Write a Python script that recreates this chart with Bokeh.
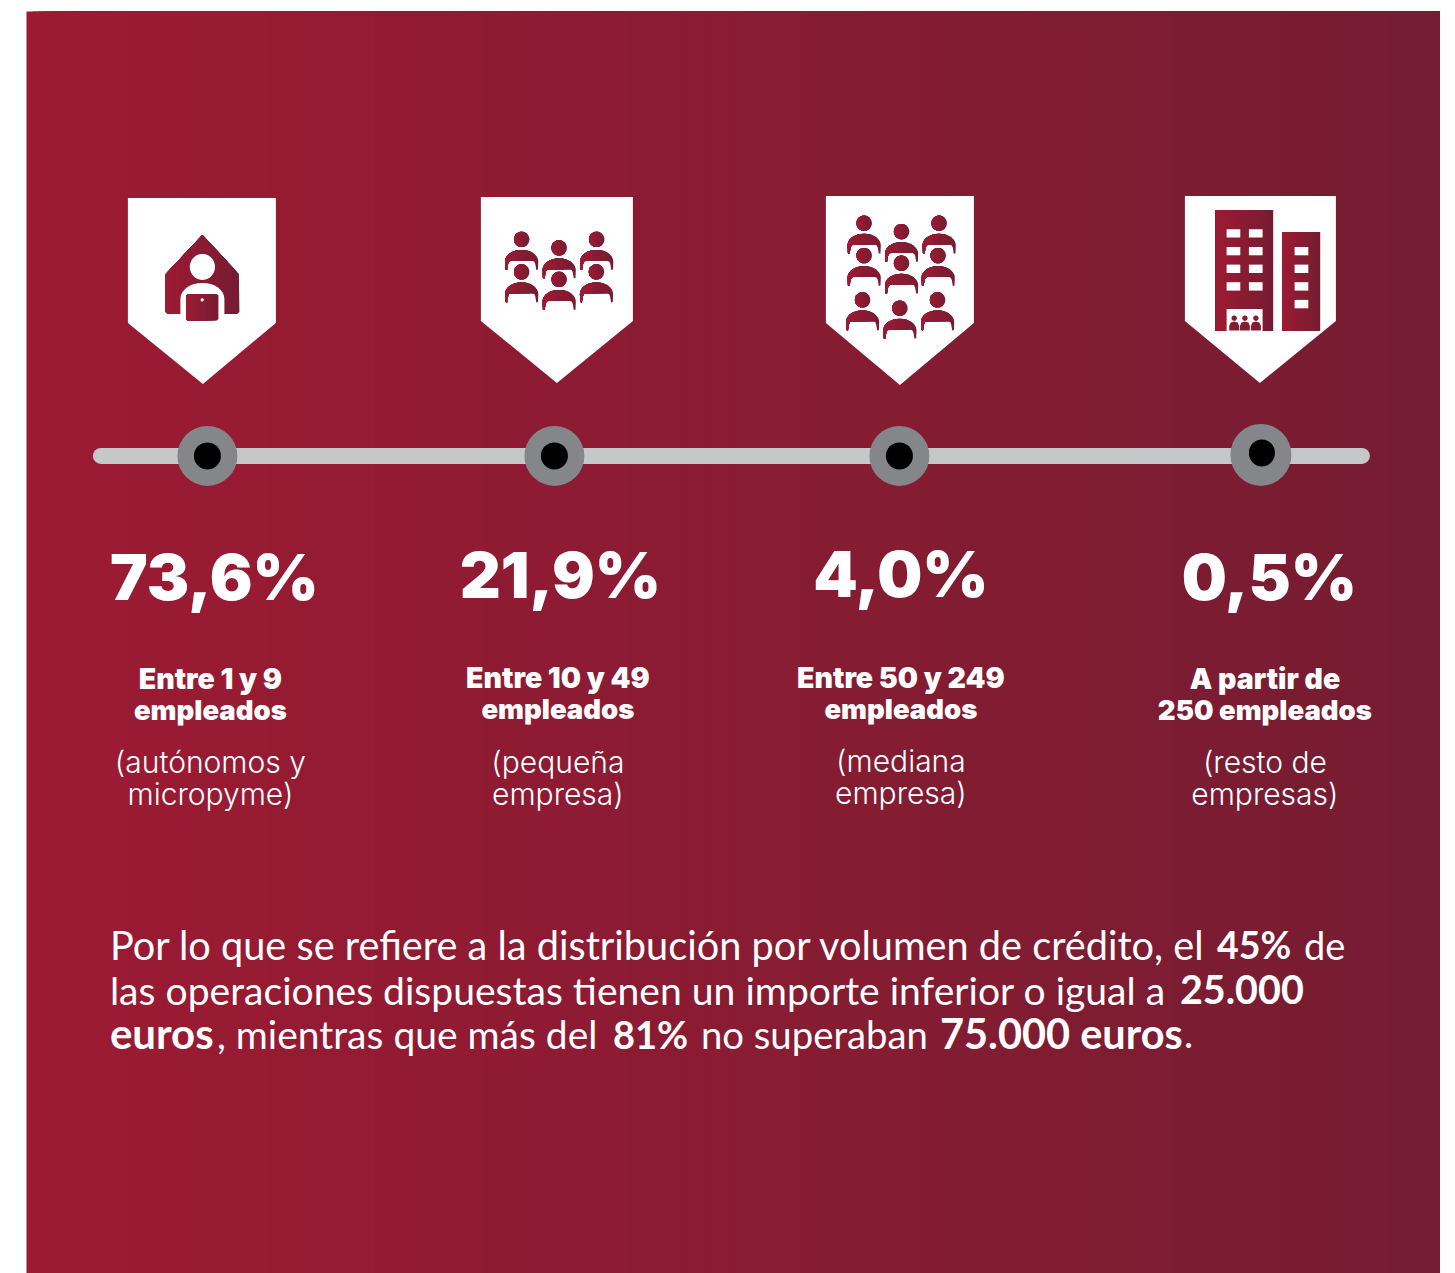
import math
from bokeh.plotting import figure
from bokeh.models import Range1d
from bokeh.core.properties import value
from bokeh.embed import file_html
from bokeh.resources import INLINE

# ---------- content ----------
percentages = ["73,6%", "21,9%", "4,0%", "0,5%"]
size_line1 = ["Entre 1 y 9", "Entre 10 y 49", "Entre 50 y 249", "A partir de"]
size_line2 = ["empleados", "empleados", "empleados", "250 empleados"]
kind_line1 = ["(autónomos y", "(pequeña", "(mediana", "(resto de"]
kind_line2 = ["micropyme)", "empresa)", "empresa)", "empresas)"]
para_line1 = ["Por lo que se refiere a la distribución por volumen de crédito, el", "45%", "de"]
para_line2 = ["las operaciones dispuestas tienen un importe inferior o igual a", "25.000"]
para_line3 = ["euros", ", mientras que más del", "81%", "no superaban", "75.000 euros", "."]

# ---------- layout (page pixels) ----------
W, H = 1440, 1273
OFF = 0.6
LEFT_C = (156, 27, 51)
RIGHT_C = (117, 28, 50)
PCT_X = [214.5, 560.5, 901, 1269.5]
PCT_Y = [600.5, 598.5, 597.5, 600.5]
LAB_X = [210.5, 558, 901, 1265]
LAB_DY = [0, -1, -1, 0]

p = figure(width=W, height=H, x_range=Range1d(OFF, W + OFF), y_range=Range1d(H + OFF, OFF),
           output_backend="svg", toolbar_location=None, min_border=0,
           outline_line_color=None, background_fill_color="white", border_fill_color="white")
p.xaxis.visible = False
p.yaxis.visible = False
p.grid.visible = False


def mix(t, a=LEFT_C, b=RIGHT_C):
    return "#%02x%02x%02x" % tuple(round(a[i] + (b[i] - a[i]) * t) for i in range(3))


# page background gradient: overlapping quads
bg_edges = [e + OFF for e in range(26, 1440, 6)]
p.quad(left=bg_edges, right=[1441] * len(bg_edges), top=[11 + OFF] * len(bg_edges), bottom=[1274] * len(bg_edges),
       fill_color=[mix((e - 26) / 1414) for e in bg_edges], line_color=None)

XS, YS, CS = [], [], []


def flat(poly, c="#ffffff"):
    XS.append([q[0] for q in poly])
    YS.append([q[1] for q in poly])
    CS.append(c)


def clip_right(poly, xmax):
    out = []
    n = len(poly)
    for i in range(n):
        a, b = poly[i], poly[(i + 1) % n]
        ina, inb = a[0] <= xmax, b[0] <= xmax
        if ina:
            out.append(a)
        if ina != inb:
            t = (xmax - a[0]) / (b[0] - a[0])
            out.append((xmax, a[1] + t * (b[1] - a[1])))
    return out


def grad(poly, steps=8):
    x0 = min(q[0] for q in poly)
    x1 = max(q[0] for q in poly)
    for k in range(steps, 0, -1):
        xm = x0 + (x1 - x0) * k / steps
        c = clip_right(poly, xm + 0.01)
        if len(c) >= 3:
            flat(c, mix((k - 0.5) / steps))


def rect(x0, y0, x1, y1):
    return [(x0, y0), (x1, y0), (x1, y1), (x0, y1)]


def circ(cx, cy, rx, ry=None, n=40):
    ry = rx if ry is None else ry
    return [(cx + rx * math.cos(2 * math.pi * i / n), cy + ry * math.sin(2 * math.pi * i / n)) for i in range(n)]


def person(cx, hy, s=1.0):
    grad(circ(cx, hy, 7.7 * s), 7)
    body = [(cx - 16.3 * s, hy + 30 * s), (cx - 16.6 * s, hy + 22 * s)]
    for i in range(0, 17):
        a = math.pi - math.pi * i / 16
        body.append((cx + 16.6 * s * math.cos(a), hy + 22 * s - 11.5 * s * math.sin(a)))
    body += [(cx + 16.3 * s, hy + 30 * s), (cx + 14.6 * s, hy + 30.5 * s), (cx + 13.6 * s, hy + 24.5 * s),
             (cx + 12.6 * s, hy + 22.2 * s), (cx + 11 * s, hy + 21.5 * s), (cx - 11 * s, hy + 21.5 * s),
             (cx - 12.6 * s, hy + 22.2 * s), (cx - 13.6 * s, hy + 24.5 * s), (cx - 14.6 * s, hy + 30.5 * s)]
    grad(body, 8)


# shields
flat([(128, 198), (276, 198), (276, 323), (203, 384), (128, 323)])
flat([(481, 197), (633, 197), (633, 321), (557, 383), (481, 321)])
flat([(826, 196), (974, 196), (974, 323), (900, 385), (826, 323)])
flat([(1185, 196), (1336, 196), (1336, 321), (1260, 383), (1185, 321)])

# icon 1: house and person with laptop
grad([(202.5, 235), (239, 274), (239.5, 312), (237.5, 314), (168, 314), (166, 312), (166, 274)], 24)
arch = [(180.5, 316)]
for i in range(0, 17):
    a = math.pi - math.pi * i / 16
    arch.append((202.5 + 22 * math.cos(a), 299 - 16 * math.sin(a)))
arch.append((224.5, 316))
flat(arch)
flat(circ(202.5, 267, 12.6, 13))
laptop = [(188, 294), (217, 294), (218.5, 295.5), (218.5, 319), (217, 320.5), (188, 320.5), (186.5, 319), (186.5, 295.5)]
grad(laptop, 12)
flat(circ(202.3, 300, 1.6))

# icon 2
for cx, hy in [(521.8, 239.5), (559.3, 248), (596.8, 239.5), (521.8, 272), (559.3, 279.5), (596.6, 272)]:
    person(cx, hy)
# icon 3
for cx, hy in [(864.3, 223.3), (901.7, 231.7), (939.3, 223.3), (864.3, 255.7), (901.7, 263.3), (938.3, 255.7),
               (862.7, 300), (900, 308.3), (937.7, 300)]:
    person(cx, hy)

# icon 4: buildings
grad(rect(1215.7, 210, 1273.3, 331), 24)
grad(rect(1282.3, 232, 1320.3, 331), 20)
for wx in (1226.7, 1249):
    for wy in (229.3, 247, 264.7, 282.3):
        flat(rect(wx, wy, wx + 13.7, wy + 8.4))
for wy in (247, 264.7, 282.3, 300):
    flat(rect(1294.7, wy, 1308.4, wy + 8.4))
flat(rect(1226.7, 309, 1262.7, 331))
for cx in (1234.3, 1245, 1256):
    flat(circ(cx, 318.3, 2.7), "#861c33")
    flat([(cx - 5, 330.5), (cx - 5, 326), (cx - 3.5, 322.5), (cx, 321.5), (cx + 3.5, 322.5), (cx + 5, 326), (cx + 5, 330.5)],
         "#861c33")

p.patches(xs=XS, ys=YS, fill_color=CS, line_color=None)

# timeline
p.line([101, 1362], [456, 456], line_width=16, line_color="#c6c7c9", line_cap="round")
p.ellipse(x=[207.5, 554.5, 899.5, 1261], y=[456, 456, 456, 455],
          width=[60, 60, 60, 61], height=[60, 60, 60, 62], fill_color="#848689", line_color=None)
p.ellipse(x=[207.5, 554.5, 899.5, 1262], y=[456, 456, 456, 453],
          width=[27, 27, 27, 26], height=[27, 27, 27, 27], fill_color="#000000", line_color=None)

BASE_K = 0.38  # baseline correction of rendered text, as a share of font size


def text(x, y, s, font, size, style="normal", align="center"):
    p.text(x=[x], y=[y - BASE_K * size], text=[s], text_font=value(font), text_font_size=value(f"{size}px"),
           text_font_style=style, text_color="#ffffff", text_align=align, text_baseline="alphabetic")


for i in range(4):
    text(PCT_X[i], PCT_Y[i], percentages[i], "Inter Black", 63.5)
    d = LAB_DY[i]
    text(LAB_X[i], 689.5 + d, size_line1[i], "Inter Black", 28.5)
    text(LAB_X[i], 721 + d, size_line2[i], "Inter Black", 27.5)
    text(LAB_X[i], 773.5 + (d if i == 2 else 0), kind_line1[i], "Inter Light", 30)
    text(LAB_X[i], 805.5 + (d if i == 2 else 0), kind_line2[i], "Inter Light", 30)

PF = "Lato"
text(110, 959.2, para_line1[0], PF, 39.7, align="left")
text(1217, 959.2, para_line1[1], PF, 37.5, "bold", "left")
text(1304, 959.2, para_line1[2], PF, 38, align="left")
text(110, 1004.2, para_line2[0], PF, 39.1, align="left")
text(1180, 1004.2, para_line2[1], PF, 39.5, "bold", "left")
text(110, 1049, para_line3[0], PF, 42, "bold", "left")
text(217, 1049, para_line3[1], PF, 39, align="left")
text(613, 1049, para_line3[2], PF, 38, "bold", "left")
text(701, 1049, para_line3[3], PF, 38.3, align="left")
text(940, 1049, para_line3[4], PF, 41.5, "bold", "left")
text(1184, 1049, para_line3[5], PF, 39, align="left")

open("out.html", "w").write(file_html(p, INLINE))
